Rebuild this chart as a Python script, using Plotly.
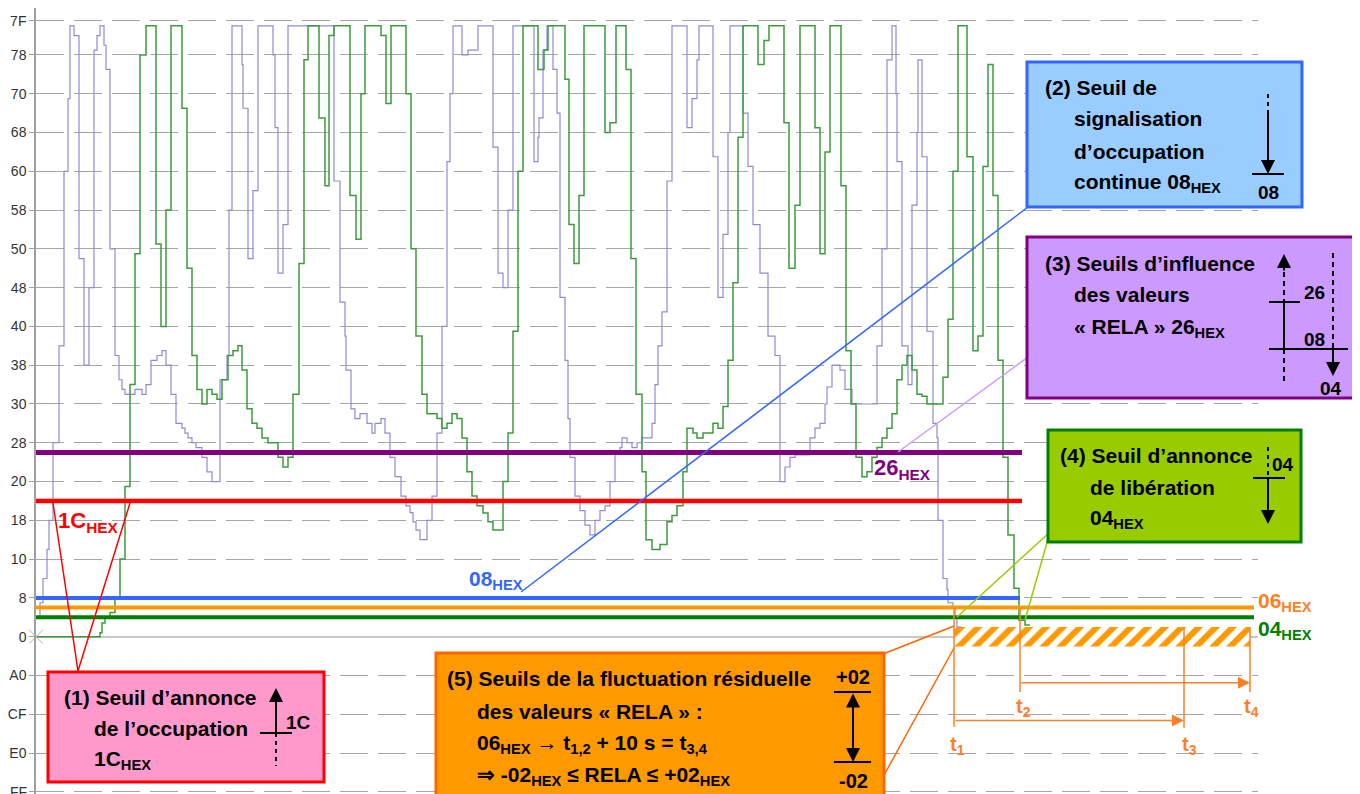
import plotly.graph_objects as go

FONT = "Liberation Sans, Arial, sans-serif"

# RELA samples (time in samples, value in decimal; axis labels are hex)
lav_t = [0, 4, 7, 11, 13, 17, 23, 28, 32, 34, 38, 43, 48, 53, 58, 61, 64, 68, 70, 74,
         79, 83, 86, 89, 99, 106, 110, 115, 121, 126, 130, 135, 140, 146, 149, 152, 156, 160, 166, 171,
         176, 184, 191, 193, 196, 206, 207, 212, 217, 222, 237, 239, 242, 247, 252, 298, 304, 309, 310, 315,
         319, 324, 331, 336, 339, 345, 349, 354, 359, 365, 370, 374, 377, 380, 384, 391, 396, 401, 406, 411,
         414, 417, 426, 432, 442, 457, 462, 467, 472, 477, 498, 502, 503, 507, 511, 517, 521, 524, 529, 532,
         534, 539, 544, 549, 554, 559, 564, 569, 574, 579, 584, 586, 591, 596, 601, 606, 616, 619, 622, 626,
         631, 636, 651, 656, 661, 663, 677, 682, 687, 692, 694, 707, 712, 717, 724, 732, 739, 744, 749, 754,
         759, 774, 779, 784, 789, 791, 796, 804, 809, 816, 841, 846, 851, 856, 860, 861, 866, 872, 876, 881,
         882, 886, 891, 897, 901, 902, 907, 911, 912, 917, 919, 921, 926]
lav_v = [4, 7, 12, 18, 24, 40, 60, 96, 111, 126, 124, 78, 56, 72, 121, 124, 126, 122, 117, 80,
         58, 53, 51, 50, 51, 50, 52, 57, 58, 59, 56, 50, 44, 43, 42, 41, 40, 39, 37, 34,
         32, 53, 58, 88, 126, 118, 109, 78, 92, 126, 120, 105, 75, 85, 126, 94, 69, 62, 55, 47,
         45, 46, 44, 42, 44, 45, 42, 37, 33, 29, 27, 25.6, 23.7, 22, 20, 24, 29, 42, 64, 98,
         112, 126, 120, 121, 126, 101, 75, 72, 88, 126, 98, 103, 107, 121, 126, 117, 108, 70, 57, 45,
         37, 29, 26, 23, 21, 24, 26, 27, 32, 38, 39, 41, 40, 39, 40, 41, 44, 52, 60, 67,
         94, 126, 105, 111, 119, 126, 99, 70, 83, 104, 126, 108, 97, 85, 75, 62, 58, 32, 35, 37,
         37.5, 41, 43, 44, 48, 51.5, 56, 55, 51, 48, 60, 80, 119, 126, 112, 98, 60, 52, 89, 104,
         119, 99, 63, 44, 41, 24, 12, 9.7, 7, 6, 4, 2, 2]

grn_t = [0, 64, 66, 69, 74, 79, 84, 89, 94, 99, 104, 110, 120, 125, 130, 135, 146, 151, 156, 161,
         166, 171, 176, 181, 186, 192, 197, 202, 206, 211, 216, 221, 226, 232, 242, 247, 252, 257, 263, 268,
         272, 283, 289, 293, 298, 314, 320, 325, 329, 345, 350, 355, 370, 375, 380, 386, 391, 401, 406, 411,
         416, 421, 426, 431, 436, 441, 447, 452, 457, 467, 472, 477, 482, 487, 502, 508, 512, 529, 533, 538,
         543, 548, 569, 574, 580, 590, 595, 600, 606, 610, 616, 624, 631, 636, 641, 647, 651, 657, 661, 667,
         677, 682, 687, 692, 697, 702, 707, 722, 728, 733, 748, 753, 759, 764, 779, 784, 789, 794, 805, 810,
         815, 820, 826, 831, 836, 841, 846, 851, 856, 861, 866, 871, 876, 881, 886, 891, 907, 912, 917, 922,
         931, 937, 942, 947, 952, 957, 962, 967, 972, 978, 983, 989, 994]
grn_v = [0, 0.8, 2.8, 3.8, 5, 8.2, 16, 31, 52, 79, 120, 126, 81, 64, 88, 126, 109, 76, 58, 51,
         48, 51, 50, 49, 53, 58, 59, 60, 55, 47, 44, 43, 41, 40, 37, 35, 37, 50, 77, 119,
         126, 107, 93, 124, 126, 91, 82, 112, 126, 124, 110, 126, 112, 80, 62, 50, 46, 45, 43, 44,
         46, 45, 41, 34, 29, 27, 25.5, 23.7, 22, 32, 42, 63, 96, 126, 117, 121, 126, 115, 85, 77,
         91, 126, 104, 106, 126, 117, 78, 50, 34, 20, 18, 19, 23.7, 25, 27, 34, 43, 42, 41, 42,
         44, 43, 47.5, 57, 73, 103, 126, 118, 123, 126, 106, 76, 89, 126, 105, 79, 100, 126, 93, 59,
         48, 37, 33, 34, 37, 39, 41, 43, 46, 53, 56, 58, 55, 50, 49.6, 48, 53.5, 65.5, 96, 126,
         99, 59, 62, 97, 118, 91, 57, 37, 21, 10, 3.4, 2.4, 2.4]

# y axis: hex labels
tick_vals = [0x7F, 0x78, 0x70, 0x68, 0x60, 0x58, 0x50, 0x48, 0x40, 0x38, 0x30,
             0x28, 0x20, 0x18, 0x10, 0x08, 0x00, -8, -16, -24, -32]
tick_text = ["7F", "78", "70", "68", "60", "58", "50", "48", "40", "38", "30",
             "28", "20", "18", "10", "8", "0", "A0", "CF", "E0", "FF"]

# thresholds
seuil_vals = [0x1C, 0x08, 0x26, 0x06, 0x04]
seuil_end = [986, 984, 986, 1218, 1218]
seuil_cols = ["#ff0000", "#3366ff", "#800080", "#ff9900", "#008000"]
seuil_w = [4.5, 4, 5, 4, 4]

# event times (samples, 10 s = 230 samples)
T1, T2 = 918, 984
DT10 = 230
T3, T4 = T1 + DT10, T2 + DT10
RELA_TOL = 0x02

# page body keeps an 8px margin, so the figure is 8px smaller on each side
OFF = 8
W, H = 1360 - OFF, 794 - OFF
X_MAX = 1222
L_MARGIN = 36 - OFF


def px(x):
    return (x - OFF - L_MARGIN) / X_MAX


def py(y):
    return 1 - (y - OFF) / H


fig = go.Figure()

# hatched residual band
fig.add_trace(go.Bar(x=[(T1 + T4) / 2], y=[2 * RELA_TOL], base=[-RELA_TOL], width=[T4 - T1],
                     marker=dict(color="white", line_width=0,
                                 pattern=dict(shape="/", fgcolor="#ff9900", bgcolor="white",
                                              fgopacity=1, size=12, solidity=0.5)),
                     hoverinfo="skip", showlegend=False))

fig.add_trace(go.Scatter(x=lav_t, y=lav_v, mode="lines", line=dict(color="#8c8cd2", width=1.2, shape="hv"),
                         showlegend=False))
fig.add_trace(go.Scatter(x=grn_t, y=grn_v, mode="lines", line=dict(color="#3c9c3c", width=1.5, shape="hv"),
                         showlegend=False))

for v, e, c, w in zip(seuil_vals, seuil_end, seuil_cols, seuil_w):
    fig.add_trace(go.Scatter(x=[0, e], y=[v, v], mode="lines", line=dict(color=c, width=w),
                             showlegend=False, hoverinfo="skip"))

# origin cross
fig.add_trace(go.Scatter(x=[0], y=[0], mode="markers", cliponaxis=False,
                         marker=dict(symbol="x-thin", size=14, line=dict(color="#b0b0b0", width=1)),
                         showlegend=False))

shapes = []
annots = []


def seg(x0, y0, x1, y1, color="black", width=2, dash="solid"):
    shapes.append(dict(type="line", xref="paper", yref="paper", x0=px(x0), y0=py(y0), x1=px(x1), y1=py(y1),
                       line=dict(color=color, width=width, dash=dash)))


def box(x0, y0, x1, y1, fill, border):
    shapes.append(dict(type="rect", xref="paper", yref="paper", x0=px(x0), y0=py(y0), x1=px(x1), y1=py(y1),
                       fillcolor=fill, line=dict(color=border, width=3)))


def txt(x, y, s, color="black", size=21, anchor="left", bold=True):
    annots.append(dict(xref="paper", yref="paper", x=px(x), y=py(y), text="<b>" + s + "</b>" if bold else s,
                       showarrow=False, xanchor=anchor, yanchor="middle",
                       font=dict(family=FONT, size=size, color=color)))


def arrow(xh, yh, xt, yt, color="black", width=2, both=False):
    annots.append(dict(xref="paper", yref="paper", x=px(xh), y=py(yh), ax=xt - xh, ay=yt - yh,
                       text="", showarrow=True, arrowhead=2, arrowsize=1.4, arrowwidth=width,
                       arrowcolor=color, arrowside="end+start" if both else "end",
                       startarrowhead=2, startarrowsize=1.4))


# connector lines
seg(53, 503, 78, 671, "#ff0000", 1.5)
seg(130, 503, 78, 671, "#ff0000", 1.5)
seg(1028, 207, 521, 592, "#3366ff", 1.5)
seg(898, 452, 1028, 357, "#cc99ff", 1.5)
seg(1050, 532, 957, 617, "#99cc00", 1.5)
seg(1050, 532, 1025, 620, "#99cc00", 1.5)
seg(883, 654, 954, 626, "#ff6600", 1.5)
seg(883, 777, 954, 648, "#ff6600", 1.5)

# boxes
box(48, 672, 324, 782, "#ff99cc", "#ff0000")
box(1027, 62, 1302, 207, "#99ccff", "#3366ff")
box(1027, 237, 1358, 398, "#cc99ff", "#800080")
box(1048, 430, 1301, 542, "#99cc00", "#008000")
box(436, 653, 884, 802, "#ff9900", "#ff6600")

# box 1
txt(62, 697, "(1) Seuil d’annonce")
txt(92, 728, "de l’occupation")
txt(92, 760, "1C<sub>HEX</sub>")
arrow(276, 688, 276, 733)
seg(276, 705, 276, 733)
seg(260, 733, 292, 733)
seg(276, 733, 276, 766, dash="4px,4px")
txt(284, 722, "1C", size=19)

# box 2
txt(1043, 87, "(2) Seuil de")
txt(1072, 119, "signalisation")
txt(1072, 151, "d’occupation")
txt(1072, 183, "continue 08<sub>HEX</sub>")
seg(1268, 94, 1268, 112, dash="4px,4px")
seg(1268, 112, 1268, 160)
arrow(1268, 174, 1268, 140)
seg(1252, 174, 1284, 174)
txt(1268, 193, "08", size=19, anchor="center")

# box 3
txt(1043, 263, "(3) Seuils d’influence")
txt(1072, 295, "des valeurs")
txt(1072, 328, "« RELA » 26<sub>HEX</sub>")
arrow(1284, 254, 1284, 272)
seg(1284, 272, 1284, 302, dash="5px,4px")
seg(1284, 302, 1284, 349)
seg(1284, 349, 1284, 383, dash="5px,4px")
seg(1269, 302, 1300, 302)
seg(1269, 349, 1348, 349)
seg(1333, 253, 1333, 349, dash="5px,4px")
seg(1333, 349, 1333, 362)
arrow(1333, 376, 1333, 349)
txt(1302, 292, "26", size=19)
txt(1302, 339, "08", size=19)
txt(1331, 388, "04", size=19, anchor="center")

# box 4
txt(1058, 455, "(4) Seuil d’annonce")
txt(1088, 487, "de libération")
txt(1088, 519, "04<sub>HEX</sub>")
seg(1268, 447, 1268, 478, dash="4px,4px")
seg(1268, 478, 1268, 510)
arrow(1268, 524, 1268, 490)
seg(1253, 478, 1285, 478)
txt(1270, 465, "04", size=19)

# box 5
txt(445, 678, "(5) Seuils de la fluctuation résiduelle")
txt(475, 711, "des valeurs « RELA » :")
txt(475, 744, "06<sub>HEX</sub> → t<sub>1,2</sub> + 10 s = t<sub>3,4</sub>")
txt(475, 776, "⇒ -02<sub>HEX</sub> ≤ RELA ≤ +02<sub>HEX</sub>")
txt(853, 677, "+02", size=20, anchor="center")
seg(834, 692, 871, 692)
seg(834, 762, 871, 762)
arrow(853, 762, 853, 692, both=True)
txt(853, 781, "-02", size=20, anchor="center")

# threshold labels
txt(56, 522, "1C<sub>HEX</sub>", color="#ff0000", size=22)
txt(467, 580, "08<sub>HEX</sub>", color="#3366ff", size=21)
txt(872, 469, "26<sub>HEX</sub>", color="#800080", size=22)
txt(1256, 602, "06<sub>HEX</sub>", color="#ff7f27", size=21)
txt(1256, 630, "04<sub>HEX</sub>", color="#008000", size=21)

# last tick label sits on the page edge
txt(29, 792, tick_text[-1], color="#333333", size=14, anchor="right", bold=False)

# event markers t1..t4
OR = "#ff7f27"
for t, top, bot in [(T1, 0x06, -18.6), (T2, 0x06, -11.4), (T3, RELA_TOL, -18.8), (T4, RELA_TOL, -11.4)]:
    shapes.append(dict(type="line", xref="x", yref="y", x0=t, x1=t, y0=top, y1=bot,
                       line=dict(color=OR, width=1.5)))
for a, b, yv in [(T1, T3, -17.3), (T2, T4, -9.5)]:
    annots.append(dict(xref="x", yref="y", x=b, y=yv, axref="x", ayref="y", ax=a, ay=yv, text="",
                       showarrow=True, arrowhead=2, arrowsize=1.6, arrowwidth=1.5, arrowcolor=OR))
txt(957, 745, "t<sub>1</sub>", color=OR, size=20, anchor="center")
txt(1023, 707, "t<sub>2</sub>", color=OR, size=20, anchor="center")
txt(1189, 745, "t<sub>3</sub>", color=OR, size=20, anchor="center")
txt(1251, 707, "t<sub>4</sub>", color=OR, size=20, anchor="center")

fig.update_layout(
    width=W, height=H,
    margin=dict(l=L_MARGIN, r=W - L_MARGIN - X_MAX, t=0, b=0),
    plot_bgcolor="white", paper_bgcolor="white",
    shapes=shapes, annotations=annots,
    showlegend=False,
)
fig.update_xaxes(visible=False, range=[0, X_MAX])
fig.update_yaxes(range=[-32.45, 129.68], tickvals=tick_vals, ticktext=tick_text,
                 showgrid=True, gridcolor="#a6a6a6", griddash="28px,10px", gridwidth=1,
                 zeroline=True, zerolinecolor="#c8c8c8", zerolinewidth=1.5,
                 showline=True, linecolor="#a0a0a0", linewidth=1.5,
                 ticks="outside", ticklen=5, tickcolor="#a0a0a0",
                 tickfont=dict(family=FONT, size=14, color="#333333"))

fig.write_html("out.html")
